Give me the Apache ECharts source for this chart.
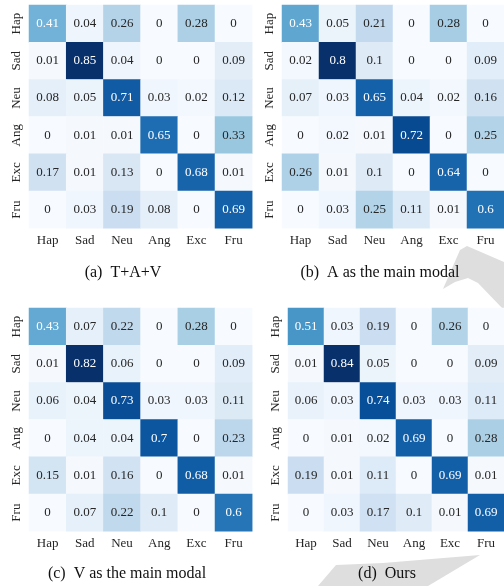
<!DOCTYPE html>
<html>
<head>
<meta charset="utf-8">
<script src="https://cdn.jsdelivr.net/npm/echarts@6/dist/echarts.min.js"></script>
<style>
  html, body { margin: 0; padding: 0; background: #fff; }
  #chart { width: 504px; height: 586px; }
</style>
</head>
<body>
<div id="chart"></div>
<script>
// Emotion classes (rows = true label, columns = predicted label)
const classes = ['Hap', 'Sad', 'Neu', 'Ang', 'Exc', 'Fru'];

// Confusion matrices, one per setting
const matTAV = [
  [0.41, 0.04, 0.26, 0, 0.28, 0],
  [0.01, 0.85, 0.04, 0, 0, 0.09],
  [0.08, 0.05, 0.71, 0.03, 0.02, 0.12],
  [0, 0.01, 0.01, 0.65, 0, 0.33],
  [0.17, 0.01, 0.13, 0, 0.68, 0.01],
  [0, 0.03, 0.19, 0.08, 0, 0.69]
];
const matAudioMain = [
  [0.43, 0.05, 0.21, 0, 0.28, 0],
  [0.02, 0.8, 0.1, 0, 0, 0.09],
  [0.07, 0.03, 0.65, 0.04, 0.02, 0.16],
  [0, 0.02, 0.01, 0.72, 0, 0.25],
  [0.26, 0.01, 0.1, 0, 0.64, 0],
  [0, 0.03, 0.25, 0.11, 0.01, 0.6]
];
const matVisualMain = [
  [0.43, 0.07, 0.22, 0, 0.28, 0],
  [0.01, 0.82, 0.06, 0, 0, 0.09],
  [0.06, 0.04, 0.73, 0.03, 0.03, 0.11],
  [0, 0.04, 0.04, 0.7, 0, 0.23],
  [0.15, 0.01, 0.16, 0, 0.68, 0.01],
  [0, 0.07, 0.22, 0.1, 0, 0.6]
];
const matOurs = [
  [0.51, 0.03, 0.19, 0, 0.26, 0],
  [0.01, 0.84, 0.05, 0, 0, 0.09],
  [0.06, 0.03, 0.74, 0.03, 0.03, 0.11],
  [0, 0.01, 0.02, 0.69, 0, 0.28],
  [0.19, 0.01, 0.11, 0, 0.69, 0.01],
  [0, 0.03, 0.17, 0.1, 0.01, 0.69]
];

const captions = ['(a)  T+A+V', '(b)  A as the main modal', '(c)  V as the main modal', '(d)  Ours'];
const matrices = [matTAV, matAudioMain, matVisualMain, matOurs];

// Sequential "Blues" ramp
const blues = ['#f7fbff', '#deebf7', '#c6dbef', '#9ecae1', '#6baed6', '#4292c6', '#2171b5', '#08519c', '#08306b'];

// Panel layout: grid boxes and caption centres
const panels = [
  { left: 29,  top: 5,   capX: 123, capY: 273 },
  { left: 282, top: 5,   capX: 380, capY: 273 },
  { left: 29,  top: 308, capX: 127, capY: 574 },
  { left: 288, top: 308, capX: 387, capY: 574 }
];
const cell = 37.2;
const FONT = 'Liberation Serif';

function hexToRgb(h) {
  return [parseInt(h.slice(1, 3), 16), parseInt(h.slice(3, 5), 16), parseInt(h.slice(5, 7), 16)];
}
function rampColor(t) {
  t = Math.max(0, Math.min(1, t));
  const pos = t * (blues.length - 1);
  const i = Math.min(blues.length - 2, Math.floor(pos));
  const f = pos - i;
  const a = hexToRgb(blues[i]), b = hexToRgb(blues[i + 1]);
  return a.map((v, k) => v + (b[k] - v) * f);
}
function luminance(rgb) {
  const lin = rgb.map(c => {
    c /= 255;
    return c <= 0.03928 ? c / 12.92 : Math.pow((c + 0.055) / 1.055, 2.4);
  });
  return 0.2126 * lin[0] + 0.7152 * lin[1] + 0.0722 * lin[2];
}

const grids = [], xAxes = [], yAxes = [], series = [], visualMaps = [];
matrices.forEach((m, p) => {
  const vmax = Math.max(...m.flat());
  const vmin = Math.min(...m.flat());
  grids.push({ left: panels[p].left, top: panels[p].top, width: cell * 6, height: cell * 6 });
  xAxes.push({
    type: 'category', gridIndex: p, data: classes, position: 'bottom',
    axisLine: { show: false }, axisTick: { show: false }, splitLine: { show: false },
    axisLabel: { fontFamily: FONT, fontSize: 13, color: '#262626', margin: 6 }
  });
  yAxes.push({
    type: 'category', gridIndex: p, data: classes, inverse: true,
    axisLine: { show: false }, axisTick: { show: false }, splitLine: { show: false },
    axisLabel: { fontFamily: FONT, fontSize: 13, color: '#262626', rotate: 90, margin: 6 }
  });
  const data = [];
  m.forEach((row, r) => row.forEach((v, c) => {
    const lum = luminance(rampColor((v - vmin) / (vmax - vmin)));
    data.push({ value: [c, r, v], label: { color: lum > 0.408 ? '#262626' : '#ffffff' } });
  }));
  series.push({
    type: 'heatmap', xAxisIndex: p, yAxisIndex: p, data: data,
    itemStyle: { borderWidth: 0 },
    emphasis: { disabled: true },
    label: {
      show: true, fontFamily: FONT, fontSize: 13,
      formatter: d => String(d.value[2])
    }
  });
  visualMaps.push({
    type: 'continuous', show: false, seriesIndex: p, dimension: 2,
    min: vmin, max: vmax, inRange: { color: blues }
  });
});

// Light grey page decoration behind the panels
const decoration = [
  { type: 'polygon', z: -1, shape: { points: [[443, 289], [460, 250], [467, 246], [504, 262], [504, 310], [478, 283], [468, 278], [455, 282]] }, style: { fill: '#dedede' } },
  { type: 'polygon', z: -1, shape: { points: [[318, 586], [336, 565], [383, 563], [480, 555], [428, 586]] }, style: { fill: '#dedede' } }
];
const captionText = captions.map((t, p) => ({
  type: 'text', z: 10, x: panels[p].capX, y: panels[p].capY,
  style: { text: t, fontFamily: FONT, fontSize: 16, fill: '#111', align: 'center', verticalAlign: 'middle' }
}));

const chart = echarts.init(document.getElementById('chart'), null, { renderer: 'canvas' });
chart.setOption({
  animation: false,
  backgroundColor: '#ffffff',
  grid: grids,
  xAxis: xAxes,
  yAxis: yAxes,
  visualMap: visualMaps,
  series: series,
  graphic: decoration.concat(captionText)
});
</script>
</body>
</html>
